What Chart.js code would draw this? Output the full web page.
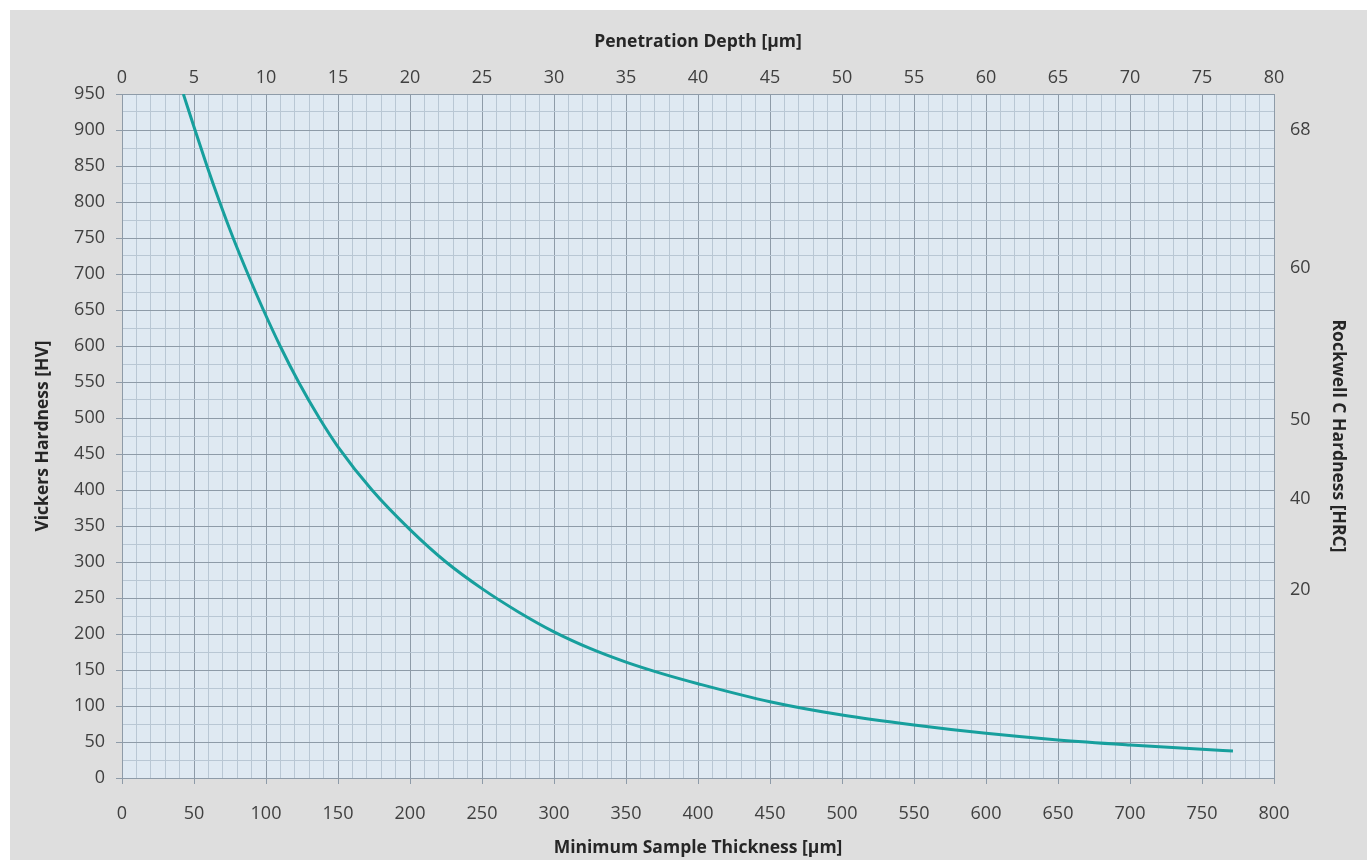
<!DOCTYPE html>
<html>
<head>
<meta charset="utf-8">
<script src="https://cdn.jsdelivr.net/npm/chart.js@4.4.1/dist/chart.umd.min.js"></script>
<style>
  html, body { margin: 0; padding: 0; background: #ffffff; }
  #wrap { width: 1371px; height: 860px; position: relative; }
</style>
</head>
<body>
<div id="wrap"><canvas id="c" width="1371" height="860"></canvas></div>
<script>
// ---- data ----
const thickness = [42.6, 50.7, 59.0, 67.8, 77.2, 87.4, 98.2, 109.8, 122.6, 137, 150, 173.6, 200, 225, 250, 275, 300, 325, 350, 375, 400, 450, 500, 550, 600, 650, 700, 750, 771.5];
const vickers   = [950, 900, 850, 800, 750, 700, 650, 600, 550, 500, 460, 400, 345, 300, 263, 231, 203, 180, 161, 145, 131, 106, 87.5, 73.6, 62, 52.8, 45.8, 39.8, 37.5];

// Rockwell C labels and the Vickers values at which they sit on the right axis
const rockwellLabels = ['68', '60', '50', '40', '20'];
const rockwellAtHV   = [900, 708, 498, 387, 261];

const xTitle = 'Minimum Sample Thickness [µm]';
const x2Title = 'Penetration Depth [µm]';
const yTitle = 'Vickers Hardness [HV]';
const y2Title = 'Rockwell C Hardness [HRC]';

// ---- styling ----
const MAJOR = '#8e9ba8';
const MINOR = '#b9c7d4';
const TEXT = '#404040';
const FONT = "'Open Sans', 'Liberation Sans', sans-serif";

const bgPlugin = {
  id: 'bg',
  beforeDraw(chart) {
    const ctx = chart.ctx;
    ctx.save();
    ctx.fillStyle = '#ffffff';
    ctx.fillRect(0, 0, chart.width, chart.height);
    ctx.fillStyle = '#dedede';
    ctx.fillRect(10, 10, 1357, 850);
    const a = chart.chartArea;
    ctx.fillStyle = '#dfe9f2';
    ctx.fillRect(a.left, a.top, a.right - a.left, a.bottom - a.top);
    ctx.restore();
  }
};

const tickFont = { family: FONT, size: 18 };
const titleFont = { family: FONT, size: 17.5, weight: 'bold' };

new Chart(document.getElementById('c'), {
  type: 'line',
  data: {
    datasets: [{
      data: thickness.map((t, i) => ({ x: t, y: vickers[i] })),
      borderColor: '#179f9d',
      borderWidth: 3,
      pointRadius: 0,
      fill: false,
      cubicInterpolationMode: 'monotone',
      xAxisID: 'x',
      yAxisID: 'y'
    }]
  },
  options: {
    responsive: false,
    animation: false,
    devicePixelRatio: 1,
    layout: { padding: 0 },
    plugins: { legend: { display: false }, tooltip: { enabled: false } },
    scales: {
      x: {
        type: 'linear', position: 'bottom', min: 0, max: 800,
        afterFit(s) { s.height = 82; },
        ticks: {
          stepSize: 10, autoSkip: false, maxRotation: 0, color: TEXT, font: tickFont, padding: 19,
          callback: v => (v % 50 === 0 ? String(v) : '')
        },
        grid: {
          color: c => (c.tick && c.tick.value % 50 === 0 ? MAJOR : MINOR),
          tickColor: c => (c.tick && c.tick.value % 50 === 0 ? MAJOR : 'rgba(0,0,0,0)'),
          tickLength: 6, lineWidth: 1
        },
        border: { display: true, color: MAJOR },
        title: { display: true, text: xTitle, color: '#262626', font: titleFont, padding: { top: 0, bottom: 1.5 } }
      },
      x2: {
        type: 'linear', position: 'top', min: 0, max: 80,
        afterFit(s) { s.height = 94; },
        ticks: { stepSize: 5, autoSkip: false, maxRotation: 0, color: TEXT, font: tickFont, padding: 5 },
        grid: { display: false, drawTicks: false },
        border: { display: true, color: MAJOR },
        title: { display: true, text: x2Title, color: '#262626', font: titleFont, padding: { top: 31.5, bottom: 0 } }
      },
      y: {
        type: 'linear', position: 'left', min: 0, max: 950,
        afterFit(s) { s.width = 122; },
        ticks: {
          stepSize: 25, autoSkip: false, color: TEXT, font: tickFont, padding: 11,
          callback: v => (v % 50 === 0 ? String(v) : '')
        },
        grid: {
          color: c => (c.tick && c.tick.value % 50 === 0 ? MAJOR : MINOR),
          tickColor: c => (c.tick && c.tick.value % 50 === 0 ? MAJOR : 'rgba(0,0,0,0)'),
          tickLength: 6, lineWidth: 1
        },
        border: { display: true, color: MAJOR },
        title: { display: true, text: yTitle, color: '#262626', font: titleFont, padding: { top: 32.5, bottom: 0 } }
      },
      y2: {
        type: 'linear', position: 'right', min: 0, max: 950,
        afterFit(s) { s.width = 97; },
        afterBuildTicks(s) { s.ticks = rockwellAtHV.map(v => ({ value: v })); },
        ticks: {
          autoSkip: false, color: TEXT, font: tickFont, padding: 16,
          callback: (v, i) => rockwellLabels[i]
        },
        grid: { display: false, drawTicks: false },
        border: { display: true, color: MAJOR },
        title: { display: true, text: y2Title, color: '#262626', font: titleFont, padding: { top: 22.5, bottom: 0 } }
      }
    }
  },
  plugins: [bgPlugin]
});
</script>
</body>
</html>
